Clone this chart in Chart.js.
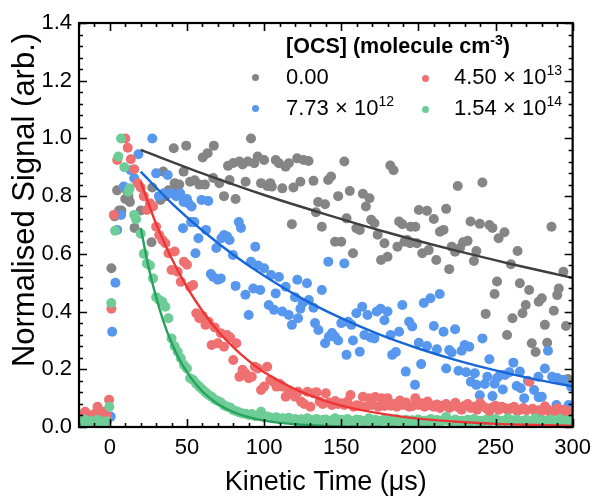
<!DOCTYPE html>
<html>
<head>
<meta charset="utf-8">
<script src="https://cdn.jsdelivr.net/npm/chart.js@4.4.0/dist/chart.umd.min.js"></script>
<style>
  html,body{margin:0;padding:0;background:#fff;}
  #wrap{position:relative;width:599px;height:497px;font-family:"Liberation Sans",Arial,sans-serif;color:#000;}
  #chart{position:absolute;left:0;top:0;}
  .lg{position:absolute;white-space:nowrap;font-size:22px;line-height:22px;}
  .lg sup{font-size:14px;line-height:0;vertical-align:9px;}
  #lgTitle{font-weight:bold;font-size:21.5px;line-height:21.5px;}
  #lgTitle sup{font-size:14px;vertical-align:8px;}
  .dot{position:absolute;width:7px;height:7px;border-radius:50%;}
</style>
</head>
<body>
<div id="wrap">
  <canvas id="chart" width="599" height="497"></canvas>
  <div class="lg" id="lgTitle" style="left:286px;top:36px;">[OCS] (molecule cm<sup>-3</sup>)</div>
  <div class="dot" style="left:252px;top:74px;background:#858585;"></div>
  <div class="lg" style="left:286px;top:66px;">0.00</div>
  <div class="dot" style="left:422px;top:75px;background:#ef7070;"></div>
  <div class="lg" style="left:454px;top:66px;">4.50 × 10<sup>13</sup></div>
  <div class="dot" style="left:252px;top:105px;background:#5797ee;"></div>
  <div class="lg" style="left:286px;top:97px;">7.73 × 10<sup>12</sup></div>
  <div class="dot" style="left:422px;top:106px;background:#6ecd96;"></div>
  <div class="lg" style="left:454px;top:97px;">1.54 × 10<sup>14</sup></div>
</div>
<script>
  // --- data ---
  // 0.00 (gray)
  const grayT = [-20,-18,-16,-14,-12,-10,-8,-6,-4,-2,
    1,3,4.7,6,7.5,10,11,12,13,16,
    20,27,27.5,32.8,34.6,36,38,41.4,42,43.5,
    45,47.8,49.5,52,55,58,60.2,61.6,63.4,67,
    67.4,71,74,76.6,77.6,80,81.5,84,86,88,
    89.4,91.5,93.6,95.8,98,100,102,104,105,107.5,
    109.6,111.8,113.9,116,118,119,121.4,123.5,125.6,128.8,
    132,133.6,135,137.4,139.5,141.5,143.4,146,148,150,
    152,153.4,155.5,157.6,159.8,162,164,166,168.3,169.4,
    171.5,173.6,175.8,178,180,181.8,183.9,186.4,187.5,189.6,
    191,192.8,194.6,195,198,199,200.3,202.5,205.6,206.7,
    210,211.6,214,216.3,218,220,221.6,223.8,225.5,227,
    229,231.9,233.8,236,237.6,239.8,241.5,243.6,246,248,
    249.4,251,252,255.8,257.5,260,261,264.3,265.8,267.5,
    269.6,271.8,273.5,276,278,280,282,283.5,286.3,287.8,
    290,291,294,295.7,297];
  const grayV = [0.03,0.02,0.03,0.02,0.04,0.03,0.02,0.03,0.04,0.03,
    0.55,0.73,0.82,0.75,0.75,0.79,0.82,0.80,0.78,0.69,
    0.75,0.64,0.83,0.787,0.885,0.80,0.82,0.966,0.845,0.83,
    0.84,0.885,0.975,0.85,0.855,0.84,0.934,0.84,0.949,0.863,
    0.975,0.845,0.80,0.905,0.856,0.915,0.79,0.92,0.91,0.85,
    0.92,1.0,0.914,0.937,0.845,0.925,0.835,0.845,0.833,0.925,
    0.914,0.827,0.902,0.914,0.703,0.83,0.931,0.85,0.925,0.922,
    0.853,0.744,0.78,0.694,0.772,0.856,0.868,0.642,0.80,0.642,
    0.92,0.723,0.818,0.602,0.689,0.683,0.808,0.764,0.793,0.718,
    0.706,0.666,0.579,0.637,0.59,0.906,0.89,0.625,0.712,0.703,
    0.642,0.648,0.637,0.694,0.694,0.637,0.752,0.602,0.749,0.613,
    0.721,0.579,0.677,0.683,0.756,0.547,0.625,0.607,0.835,0.62,
    0.64,0.645,0.712,0.575,0.61,0.704,0.847,0.392,0.70,0.69,
    0.461,0.504,0.654,0.675,0.319,0.564,0.377,0.61,0.498,0.394,
    0.423,0.475,0.29,0.26,0.434,0.446,0.354,0.292,0.694,0.403,
    0.457,0.48,0.538,0.35,0.166];

  // 7.73e12 (blue)
  const blueT = [-20,-18,-16,-14,-12,-10,-8,-6,-4,-2,
    0.6,1.5,3.6,4.7,7.3,9,13.5,15.8,18.5,27.5,
    30,31.8,35,37.5,40,43,45.6,47.4,47.8,50,
    51,52.7,53,54.8,55.5,57.4,59.5,62.3,63.8,65.5,
    67,69,70,71.9,72.3,74,76,77.6,79.8,81.5,
    83.6,85,87.9,90,91.5,93,94.3,96,97.5,100,
    103,104.5,106.4,107.5,109.6,111.8,114,116,118,120,
    121.5,122,123.5,125,127.8,129,132,133,135.2,137.4,
    139.5,141.6,142,144,146,148,150,152,153.4,154.5,
    156.6,157.6,159.8,162,163.6,165,167,169,171.5,173,
    175.5,178,180,182,183,185.4,187.5,189.6,191.8,194,
    196,197.8,200.3,201.8,203.5,205.6,207.8,210,212,213.8,
    216.3,218,220,221.6,223.8,226,228,230,231,233,
    234,236.6,237.6,239.8,241.5,243,244.7,246,248,249.4,
    251,253,254.7,256,259,261.6,263.7,265.8,266.4,268.6,
    271,275,277.8,278,280,282,284,286.7,289.5,290,
    292,294,297.4,299];
  const blueV = [0.03,0.02,0.04,0.03,0.02,0.03,0.04,0.02,0.03,0.02,
    0.036,0.33,0.50,0.683,0.735,0.833,0.89,0.862,0.945,1.0,
    0.879,0.80,0.81,0.873,0.81,0.80,0.81,0.689,0.78,0.79,
    0.775,0.71,0.764,0.71,0.602,0.654,0.787,0.683,0.783,0.53,
    0.52,0.62,0.51,0.515,0.654,0.665,0.66,0.648,0.596,0.489,
    0.71,0.69,0.458,0.388,0.573,0.48,0.625,0.56,0.475,0.55,
    0.423,0.527,0.406,0.463,0.52,0.40,0.486,0.388,0.354,0.45,
    0.51,0.377,0.41,0.43,0.498,0.44,0.413,0.36,0.336,0.475,
    0.29,0.573,0.313,0.326,0.313,0.30,0.36,0.567,0.25,0.365,
    0.354,0.30,0.394,0.261,0.417,0.319,0.388,0.31,0.307,0.40,
    0.41,0.37,0.40,0.319,0.25,0.26,0.33,0.423,0.192,0.365,
    0.348,0.146,0.292,0.218,0.43,0.281,0.446,0.35,0.269,0.461,
    0.33,0.203,0.267,0.258,0.339,0.195,0.264,0.284,0.19,0.278,
    0.157,0.186,0.146,0.11,0.307,0.149,0.174,0.235,0.107,0.15,
    0.17,0.18,0.13,0.18,0.19,0.223,0.142,0.192,0.134,0.10,
    0.16,0.128,0.174,0.103,0.105,0.203,0.264,0.174,0.076,0.17,
    0.163,0.163,0.076,0.14];

  // 4.50e13 (red) and 1.54e14 (green): rise, then sampled every 2 us
  const redRiseT = [-20,-18,-16,-14,-12,-10,-8,-6,-4,-2,-0.5,1,2.6,4.8,10,11.6,13.6,15.8,18];
  const redRiseV = [0.03,0.042,0.053,0.03,0.036,0.045,0.07,0.05,0.053,0.04,0.094,0.41,0.735,0.925,1.0,0.968,0.928,0.893,0.845];
  const greenRiseT = [-20,-18,-16,-14,-12,-10,-8,-6,-4,-2,-0.3,0.9,3.4,5.5,7.3,9.4,12,12.8,15.8,17];
  const greenRiseV = [0.02,0.015,0.025,0.01,0.02,0.015,0.025,0.02,0.015,0.02,0.07,0.43,0.68,0.937,1.0,0.90,0.815,0.827,0.735,0.72];

  const decayT = [20,22,24,26,28,30,32,34,36,38,
    40,42,44,46,48,50,52,54,56,58,
    60,62,64,66,68,70,72,74,76,78,
    80,82,84,86,88,90,92,94,96,98,
    100,102,104,106,108,110,112,114,116,118,
    120,122,124,126,128,130,132,134,136,138,
    140,142,144,146,148,150,152,154,156,158,
    160,162,164,166,168,170,172,174,176,178,
    180,182,184,186,188,190,192,194,196,198,
    200,202,204,206,208,210,212,214,216,218,
    220,222,224,226,228,230,232,234,236,238,
    240,242,244,246,248,250,252,254,256,258,
    260,262,264,266,268,270,272,274,276,278,
    280,282,284,286,288,290,292,294,296,298,
    300];
  const redDecayV = [0.83,0.80,0.752,0.775,0.764,0.694,0.665,0.648,0.637,0.602,
    0.544,0.608,0.538,0.503,0.573,0.562,0.486,0.492,0.394,0.377,
    0.385,0.354,0.365,0.284,0.345,0.29,0.325,0.278,0.319,0.31,
    0.232,0.29,0.174,0.198,0.186,0.169,0.174,0.209,0.203,0.128,
    0.14,0.209,0.163,0.157,0.14,0.15,0.14,0.105,0.122,0.115,
    0.105,0.122,0.088,0.08,0.122,0.07,0.117,0.12,0.088,0.08,
    0.117,0.085,0.076,0.09,0.08,0.082,0.076,0.088,0.111,0.07,
    0.075,0.073,0.105,0.07,0.10,0.076,0.104,0.07,0.10,0.073,
    0.10,0.074,0.08,0.07,0.092,0.076,0.085,0.07,0.072,0.10,
    0.076,0.082,0.07,0.088,0.075,0.07,0.078,0.066,0.074,0.08,
    0.066,0.072,0.084,0.068,0.06,0.074,0.08,0.066,0.07,0.06,
    0.083,0.072,0.065,0.055,0.068,0.074,0.06,0.07,0.066,0.058,
    0.065,0.07,0.055,0.06,0.066,0.058,0.157,0.063,0.05,0.058,
    0.054,0.072,0.06,0.046,0.055,0.065,0.05,0.06,0.054,0.048,
    0.055];
  const greenDecayV = [0.67,0.60,0.567,0.56,0.515,0.45,0.44,0.434,0.417,0.377,
    0.307,0.28,0.261,0.238,0.215,0.203,0.169,0.163,0.15,0.14,
    0.13,0.12,0.111,0.105,0.095,0.09,0.085,0.075,0.07,0.068,
    0.058,0.055,0.05,0.047,0.046,0.042,0.045,0.038,0.04,0.053,
    0.035,0.036,0.033,0.03,0.034,0.028,0.03,0.026,0.032,0.025,
    0.028,0.024,0.027,0.022,0.03,0.025,0.022,0.028,0.02,0.024,
    0.026,0.02,0.023,0.03,0.021,0.025,0.02,0.028,0.022,0.018,
    0.026,0.024,0.02,0.022,0.03,0.02,0.025,0.018,0.022,0.026,
    0.02,0.024,0.018,0.027,0.022,0.02,0.025,0.018,0.023,0.02,
    0.026,0.02,0.022,0.018,0.028,0.02,0.024,0.019,0.023,0.035,
    0.022,0.02,0.026,0.018,0.022,0.02,0.025,0.019,0.028,0.02,
    0.022,0.018,0.025,0.02,0.023,0.028,0.018,0.022,0.02,0.03,
    0.024,0.018,0.026,0.02,0.022,0.025,0.018,0.022,0.03,0.02,
    0.024,0.018,0.022,0.026,0.02,0.018,0.028,0.022,0.02,0.025,
    0.02];

  // fitted decays
  const grayFitT = [20,60,100,140,180,220,260,300];
  const grayFitV = [0.96,0.879,0.804,0.737,0.674,0.617,0.565,0.517];
  const blueFitT = [20,40,60,80,100,125,150,175,200,225,250,275,300];
  const blueFitV = [0.885,0.776,0.681,0.597,0.524,0.444,0.377,0.32,0.272,0.231,0.196,0.166,0.141];
  const redFitT = [20,30,40,50,60,70,80,90,100,120,140,160,180,200,225,250,275,300];
  const redFitV = [0.85,0.704,0.585,0.485,0.402,0.333,0.277,0.229,0.19,0.131,0.09,0.062,0.043,0.029,0.018,0.011,0.007,0.004];
  const greenFitT = [20,25,30,35,40,45,50,55,60,70,80,90,100,120,140,170,200,250,300];
  const greenFitV = [0.69,0.556,0.45,0.362,0.292,0.235,0.19,0.153,0.123,0.08,0.052,0.034,0.022,0.0093,0.004,0.001,0.0003,0,0];

  const xTicks = [0,50,100,150,200,250,300];

  function pts(t, v){ return t.map((x,i)=>({x:x, y:v[i]})); }

  const FONT = '"Liberation Sans", Arial, sans-serif';
  const colors = { gray:'#858585', blue:'#5797ee', red:'#ef7070', green:'#6ecd96' };
  const lineColors = { gray:'#3f3f3f', blue:'#1766d8', red:'#ee3535', green:'#27a25e' };

  function scatterSet(label, data, c, order){
    return { label, data, order, showLine:false, pointRadius:5, pointHoverRadius:5,
      pointBackgroundColor:c, pointBorderWidth:0, backgroundColor:c, borderColor:c };
  }
  function fitSet(label, data, c){
    return { label, data, order:0, showLine:true, borderColor:c, borderWidth:2.4, pointRadius:0,
      fill:false, cubicInterpolationMode:'monotone' };
  }

  // inward ticks on all four sides, frame and the y title
  const frame = {
    id:'frame',
    afterDraw(chart){
      const {ctx, chartArea:a, scales:{x, y}} = chart;
      ctx.save();
      ctx.strokeStyle = '#000';
      ctx.lineWidth = 1.6;
      ctx.beginPath();
      for(let v=-20; v<=300; v+=10){
        const px = Math.round(x.getPixelForValue(v)) + 0.5;
        const len = (v % 50 === 0) ? 8 : 4;
        ctx.moveTo(px, a.bottom); ctx.lineTo(px, a.bottom - len);
        ctx.moveTo(px, a.top); ctx.lineTo(px, a.top + len);
      }
      for(let i=0; i<=35; i++){
        const py = Math.round(y.getPixelForValue(i*0.04)) + 0.5;
        const len = (i % 5 === 0) ? 8 : 4;
        ctx.moveTo(a.left, py); ctx.lineTo(a.left + len, py);
        ctx.moveTo(a.right, py); ctx.lineTo(a.right - len, py);
      }
      ctx.stroke();
      ctx.lineWidth = 2.2;
      ctx.strokeRect(a.left, a.top, a.right - a.left, a.bottom - a.top);

      // y axis title sits a little above the plot centre in the reference
      ctx.translate(34, 200);
      ctx.rotate(-Math.PI/2);
      ctx.fillStyle = '#000';
      ctx.font = '31px ' + FONT;
      ctx.textAlign = 'center';
      ctx.textBaseline = 'alphabetic';
      ctx.fillText('Normalised Signal (arb.)', 0, 0);
      ctx.restore();
    }
  };

  new Chart(document.getElementById('chart'), {
    type:'scatter',
    data:{ datasets:[
      fitSet('fit 0.00', pts(grayFitT, grayFitV), lineColors.gray),
      fitSet('fit 7.73e12', pts(blueFitT, blueFitV), lineColors.blue),
      fitSet('fit 4.50e13', pts(redFitT, redFitV), lineColors.red),
      fitSet('fit 1.54e14', pts(greenFitT, greenFitV), lineColors.green),
      scatterSet('1.54e14', pts(greenRiseT.concat(decayT), greenRiseV.concat(greenDecayV)), colors.green, 1),
      scatterSet('4.50e13', pts(redRiseT.concat(decayT), redRiseV.concat(redDecayV)), colors.red, 2),
      scatterSet('7.73e12', pts(blueT, blueV), colors.blue, 3),
      scatterSet('0.00', pts(grayT, grayV), colors.gray, 4)
    ]},
    options:{
      responsive:false, animation:false, devicePixelRatio:1,
      layout:{ padding:{ left:0, right:19, top:23, bottom:0 } },
      plugins:{ legend:{display:false}, tooltip:{enabled:false} },
      scales:{
        x:{
          type:'linear', min:-20, max:300,
          grid:{display:false, drawTicks:false}, border:{display:false},
          afterBuildTicks(s){ s.ticks = xTicks.map(v=>({value:v})); },
          ticks:{ color:'#000', font:{family:FONT, size:22}, padding:8, maxRotation:0, autoSkip:false },
          title:{ display:true, text:'Kinetic Time (μs)', color:'#000', font:{family:FONT, size:27, lineHeight:1}, padding:{top:0, bottom:1} },
          afterFit(s){ s.height = 70; }
        },
        y:{
          min:0, max:1.4,
          grid:{display:false, drawTicks:false}, border:{display:false},
          ticks:{ stepSize:0.2, color:'#000', font:{family:FONT, size:22}, padding:7, callback:(v)=>Number(v).toFixed(1) },
          afterFit(s){ s.width = 79; }
        }
      }
    },
    plugins:[frame]
  });
</script>
</body>
</html>
